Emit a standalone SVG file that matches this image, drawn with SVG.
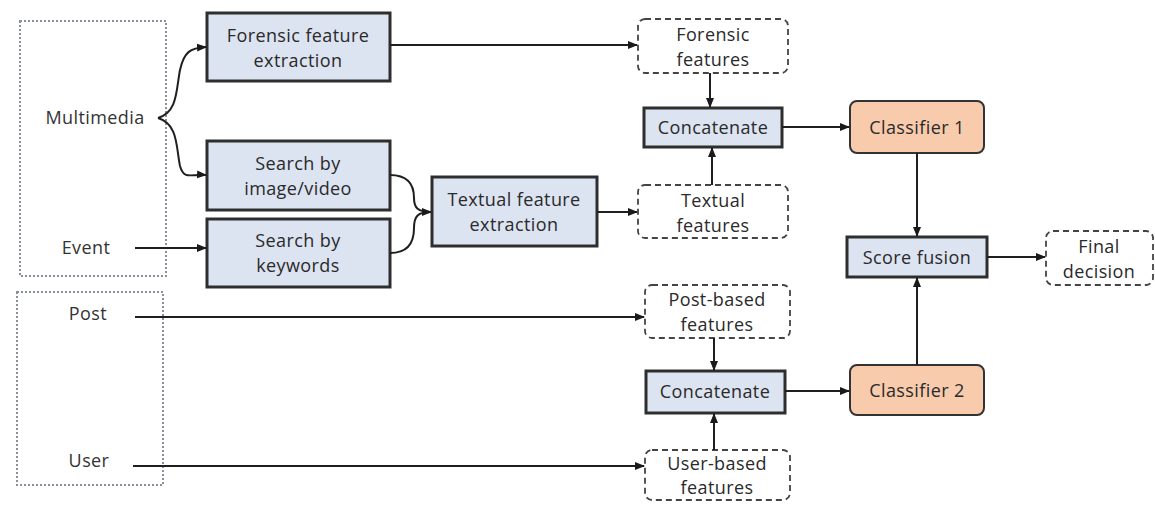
<svg xmlns="http://www.w3.org/2000/svg" width="1155" height="507" viewBox="0 0 1155 507">
<defs>
<marker id="ah" markerWidth="10" markerHeight="10" refX="9" refY="5" orient="auto" markerUnits="userSpaceOnUse"><path d="M0,1 L10,5 L0,9 Z" fill="#1a1a1a"/></marker>
<style>
.proc{fill:#dce3f1;stroke:#2e2e2e;stroke-width:3}
.cls{fill:#f8cbad;stroke:#333;stroke-width:2}
.feat{fill:#fff;stroke:#444;stroke-width:1.8;stroke-dasharray:6,4}
.grp{fill:#fff;stroke:#8a9099;stroke-width:2;stroke-dasharray:2,2}
text{font-family:"Open Sans","Liberation Sans",sans-serif;font-size:18px;letter-spacing:0.4px;fill:#2a2a2a;text-anchor:middle}
.lbl{fill:#333}
.c{fill:none;stroke:#1f1f1f;stroke-width:2;marker-end:url(#ah)}
.cn{fill:none;stroke:#1f1f1f;stroke-width:2}
</style>
</defs>
<rect width="1155" height="507" fill="#fff"/>
<g id="group-multimedia"><rect class="grp" x="20" y="21" width="146" height="255"/></g>
<g id="group-post-user"><rect class="grp" x="17" y="292" width="146" height="193"/></g>
<g id="in-multimedia"><text class="lbl" x="95" y="124">Multimedia</text></g>
<g id="in-event"><text class="lbl" x="86" y="254">Event</text></g>
<g id="in-post"><text class="lbl" x="88" y="320">Post</text></g>
<g id="in-user"><text class="lbl" x="89" y="467">User</text></g>
<g id="forensic-extraction"><rect class="proc" x="207" y="13" width="183" height="68"/><text x="298" y="42">Forensic feature</text><text x="298" y="67">extraction</text></g>
<g id="search-image"><rect class="proc" x="207" y="141" width="183" height="69"/><text x="298" y="170">Search by</text><text x="298" y="195">image/video</text></g>
<g id="search-keywords"><rect class="proc" x="207" y="219" width="183" height="68"/><text x="298" y="247">Search by</text><text x="298" y="272">keywords</text></g>
<g id="textual-extraction"><rect class="proc" x="432" y="177" width="165" height="69"/><text x="514" y="206">Textual feature</text><text x="514" y="231">extraction</text></g>
<g id="forensic-features"><rect class="feat" x="638" y="19" width="150" height="54" rx="7"/><text x="713" y="41">Forensic</text><text x="713" y="66">features</text></g>
<g id="concat1"><rect class="proc" x="644" y="108" width="138" height="39"/><text x="713" y="134">Concatenate</text></g>
<g id="textual-features"><rect class="feat" x="638" y="185" width="150" height="53" rx="7"/><text x="713" y="207">Textual</text><text x="713" y="232">features</text></g>
<g id="classifier1"><rect class="cls" x="850" y="101" width="134" height="52" rx="7"/><text x="917" y="134">Classifier 1</text></g>
<g id="score-fusion"><rect class="proc" x="847" y="237" width="140" height="40"/><text x="917" y="264">Score fusion</text></g>
<g id="final-decision"><rect class="feat" x="1046" y="231" width="107" height="54" rx="7"/><text x="1099" y="253">Final</text><text x="1099" y="278">decision</text></g>
<g id="classifier2"><rect class="cls" x="850" y="365" width="134" height="50" rx="7"/><text x="917" y="397">Classifier 2</text></g>
<g id="post-features"><rect class="feat" x="645" y="285" width="145" height="53" rx="7"/><text x="717" y="306">Post-based</text><text x="717" y="331">features</text></g>
<g id="concat2"><rect class="proc" x="646" y="371" width="139" height="42"/><text x="715" y="398">Concatenate</text></g>
<g id="user-features"><rect class="feat" x="645" y="450" width="145" height="50" rx="7"/><text x="717" y="470">User-based</text><text x="717" y="494">features</text></g>
<g id="connectors">
<path class="c" d="M390,45 L637,45"/>
<path class="c" d="M158,118 C178,112 176,90 180,70 C184,52 190,48 206,47"/>
<path class="c" d="M158,118 C178,124 176,146 180,166 C184,180 190,174 206,175"/>
<path class="c" d="M135,248 L206,248"/>
<path class="cn" d="M390,175 C408,175 414,185 414,198 C414,208 418,212 431,212"/>
<path class="c" d="M390,253 C408,253 414,243 414,228 C414,216 418,212 431,212"/>
<path class="c" d="M597,212 L637,212"/>
<path class="c" d="M710,73 L710,107"/>
<path class="c" d="M712,185 L712,148"/>
<path class="c" d="M782,127 L849,127"/>
<path class="c" d="M917,153 L917,236"/>
<path class="c" d="M917,365 L917,278"/>
<path class="c" d="M987,257 L1045,257"/>
<path class="c" d="M135,317 L644,317"/>
<path class="c" d="M133,466 L644,466"/>
<path class="c" d="M714,338 L714,370"/>
<path class="c" d="M714,450 L714,414"/>
<path class="c" d="M785,391 L849,391"/>
</g>
</svg>
